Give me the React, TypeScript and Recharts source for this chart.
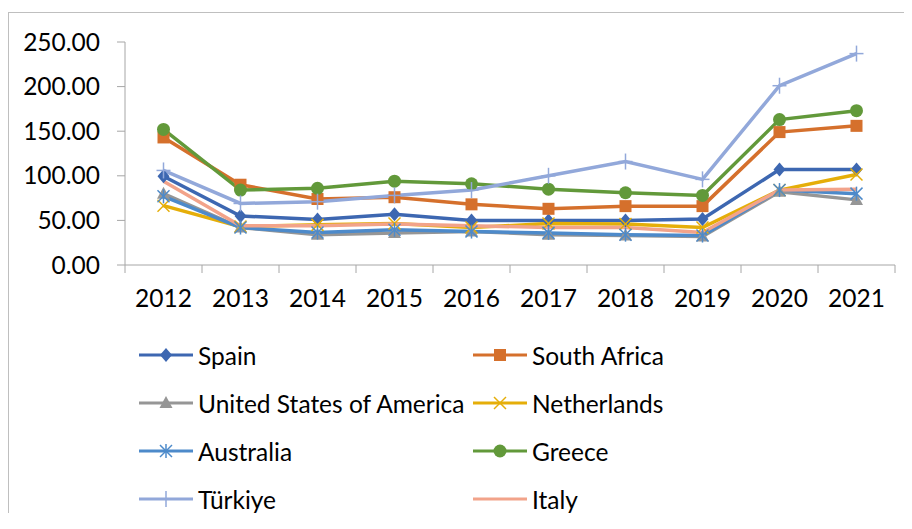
import { LineChart, Line, XAxis, YAxis, Legend } from "recharts";

const years = ["2012", "2013", "2014", "2015", "2016", "2017", "2018", "2019", "2020", "2021"];
const spain = [99.5, 55, 51, 57, 50, 50, 50, 51.5, 107, 107];
const southAfrica = [143, 90, 74, 76, 68, 63, 66, 66, 149, 156];
const usa = [80, 42, 34, 36, 37.5, 34, 33, 32, 82, 73];
const netherlands = [66.5, 43, 45, 46.5, 42, 46.5, 46, 42, 84, 101.5];
const australia = [77, 42, 36.4, 39.5, 37.5, 36, 34, 33, 84, 80];
const greece = [152, 84, 86, 94, 91, 85, 81, 78, 163, 173];
const turkiye = [106, 69, 71, 78, 84, 100, 116, 96, 201, 237];
const italy = [94, 44, 44, 46, 44, 42, 42, 36.4, 84, 85];
const yTicks = [0, 50, 100, 150, 200, 250];

const FONT = "Lato, 'Noto Sans', sans-serif";
const FONT_SIZE = 24.5;
const AXIS = "#a6a6a6";

type Marker = "diamond" | "square" | "triangle" | "x" | "star" | "circle" | "plus" | "none";

const series: { key: string; values: number[]; color: string; marker: Marker }[] = [
  { key: "Spain", values: spain, color: "#3d67b1", marker: "diamond" },
  { key: "South Africa", values: southAfrica, color: "#d5702c", marker: "square" },
  { key: "United States of America", values: usa, color: "#969696", marker: "triangle" },
  { key: "Netherlands", values: netherlands, color: "#e5ae09", marker: "x" },
  { key: "Australia", values: australia, color: "#4d8aca", marker: "star" },
  { key: "Greece", values: greece, color: "#62993a", marker: "circle" },
  { key: "Türkiye", values: turkiye, color: "#92a8da", marker: "plus" },
  { key: "Italy", values: italy, color: "#f2a38a", marker: "none" },
];

const data = years.map((year, i) => {
  const row: Record<string, string | number> = { year };
  series.forEach((s) => (row[s.key] = s.values[i]));
  return row;
});

const drawMarker = (kind: Marker, cx: number, cy: number, color: string, key?: string | number) => {
  switch (kind) {
    case "diamond":
      return <polygon key={key} points={`${cx},${cy - 7} ${cx + 6},${cy} ${cx},${cy + 7} ${cx - 6},${cy}`} fill={color} />;
    case "square":
      return <rect key={key} x={cx - 6} y={cy - 6} width={12} height={12} fill={color} />;
    case "triangle":
      return <polygon key={key} points={`${cx},${cy - 7} ${cx + 6.5},${cy + 5} ${cx - 6.5},${cy + 5}`} fill={color} />;
    case "x":
      return (
        <g key={key} stroke={color} strokeWidth={1.5}>
          <line x1={cx - 6} y1={cy - 6} x2={cx + 6} y2={cy + 6} />
          <line x1={cx - 6} y1={cy + 6} x2={cx + 6} y2={cy - 6} />
        </g>
      );
    case "star":
      return (
        <g key={key} stroke={color} strokeWidth={1.5}>
          <line x1={cx - 6} y1={cy - 6} x2={cx + 6} y2={cy + 6} />
          <line x1={cx - 6} y1={cy + 6} x2={cx + 6} y2={cy - 6} />
          <line x1={cx} y1={cy - 7} x2={cx} y2={cy + 7} />
        </g>
      );
    case "circle":
      return <circle key={key} cx={cx} cy={cy} r={6.5} fill={color} />;
    case "plus":
      return (
        <g key={key} stroke={color} strokeWidth={1.5}>
          <line x1={cx - 7} y1={cy} x2={cx + 7} y2={cy} />
          <line x1={cx} y1={cy - 8} x2={cx} y2={cy + 8} />
        </g>
      );
    default:
      return <g key={key} />;
  }
};

const PLOT_WIDTH = 770;
const BAND = PLOT_WIDTH / years.length;

const XTick = (props: any) => {
  const { x, y, payload, index } = props;
  return (
    <g>
      <line x1={x - BAND / 2} y1={y - 8} x2={x - BAND / 2} y2={y} stroke={AXIS} />
      {index === years.length - 1 && <line x1={x + BAND / 2} y1={y - 8} x2={x + BAND / 2} y2={y} stroke={AXIS} />}
      <text x={x} y={y + 34} textAnchor="middle" fontSize={FONT_SIZE} fontFamily={FONT} fill="#000">
        {payload.value}
      </text>
    </g>
  );
};

const LegendContent = () => (
  <div style={{ height: 182, paddingLeft: 131, marginTop: -1, display: "grid", gridTemplateColumns: "334px 334px", gridAutoRows: 48, fontFamily: FONT, fontSize: FONT_SIZE, color: "#000" }}>
    {series.map((s) => (
      <div key={s.key} style={{ display: "flex", alignItems: "center", height: 48, whiteSpace: "nowrap" }}>
        <svg width={58} height={20}>
          <line x1={0} y1={10} x2={54} y2={10} stroke={s.color} strokeWidth={3} />
          {drawMarker(s.marker, 27, 10, s.color)}
        </svg>
        <span style={{ marginLeft: 1 }}>{s.key}</span>
      </div>
    ))}
  </div>
);

export default function App() {
  return (
    <div style={{ position: "relative", width: 904, height: 505, overflow: "hidden" }}>
      <div style={{ position: "absolute", left: 0, top: 4, width: 904, height: 501, borderTop: "1px solid #bfbfbf", borderLeft: "1px solid #bfbfbf", boxSizing: "border-box" }} />
      <div style={{ position: "absolute", left: 0, top: 0 }}>
        <LineChart width={904} height={505} data={data} margin={{ top: 34, right: 17, left: 0, bottom: 0 }}>
          <XAxis
            dataKey="year"
            stroke={AXIS}
            tickLine={false}
            tick={<XTick />}
            height={67}
            interval={0}
            padding={{ left: BAND / 2, right: BAND / 2 }}
          />
          <YAxis
            domain={[0, 250]}
            ticks={yTicks}
            width={117}
            stroke={AXIS}
            tickSize={8}
            tickMargin={17}
            tickFormatter={(v: number) => v.toFixed(2)}
            tick={{ fill: "#000", fontSize: FONT_SIZE, fontFamily: FONT }}
          />
          <Legend verticalAlign="bottom" content={<LegendContent />} />
          {series.map((s) => (
            <Line
              key={s.key}
              dataKey={s.key}
              stroke={s.color}
              strokeWidth={3.5}
              isAnimationActive={false}
              dot={(p: any) => drawMarker(s.marker, p.cx, p.cy, s.color, p.index)}
              activeDot={false}
            />
          ))}
        </LineChart>
      </div>
    </div>
  );
}
